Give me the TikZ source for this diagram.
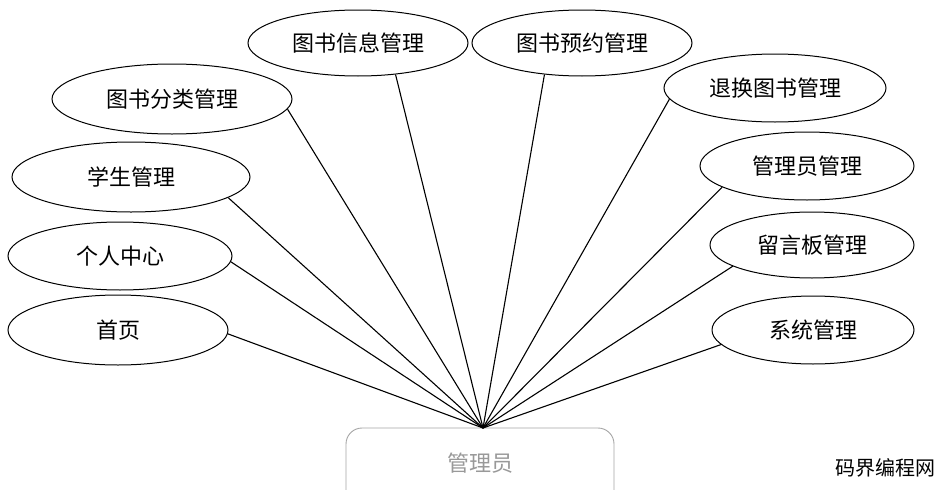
\documentclass[tikz,border=0pt]{standalone}
\usepackage{fontspec}
\newfontfamily\cjk{Noto Sans CJK SC}
\usetikzlibrary{shapes.geometric}
\begin{document}
\begin{tikzpicture}[x=1pt,y=-1pt,
  ell/.style={ellipse,draw,line width=1pt,inner sep=0pt,font=\cjk\fontsize{22}{22}\selectfont},
  conn/.style={line width=1.1pt}]
\useasboundingbox (0,0) rectangle (946,490);
\fill[white] (0,0) rectangle (946,490);
\coordinate (c) at (483,428);
\node[ell,minimum width=220pt,minimum height=70pt] (a1) at (118,330) {首页};
\node[ell,minimum width=224pt,minimum height=68pt] (a2) at (120,256) {个人中心};
\node[ell,minimum width=238pt,minimum height=70pt] (a3) at (131,177) {学生管理};
\node[ell,minimum width=240pt,minimum height=70pt] (a4) at (172,99) {图书分类管理};
\node[ell,minimum width=220pt,minimum height=66pt] (a5) at (358,43) {图书信息管理};
\node[ell,minimum width=220pt,minimum height=66pt] (a6) at (582,43) {图书预约管理};
\node[ell,minimum width=222pt,minimum height=68pt] (a7) at (775,88) {退换图书管理};
\node[ell,minimum width=214pt,minimum height=68pt] (a8) at (807,166) {管理员管理};
\node[ell,minimum width=204pt,minimum height=66pt] (a9) at (812,245) {留言板管理};
\node[ell,minimum width=202pt,minimum height=68pt] (a10) at (813,330) {系统管理};
\draw[gray!70,line width=0.9pt,rounded corners=16pt] (346,500) -- (346,428) -- (614,428) -- (614,500);
\node[text=gray!80,font=\cjk\fontsize{22}{22}\selectfont] (m) at (480,463) {管理员};
\draw[conn] (a1.-2) -- (c);
\draw[conn] (a2.-3) -- (c);
\draw[conn] (a3.-12) -- (c);
\draw[conn] (a4.-5) -- (c);
\draw[conn] (a5.-40) -- (c);
\draw[conn] (a6.-140) -- (c);
\draw[conn] (a7.-174) -- (c);
\draw[conn] (a8.-166) -- (c);
\draw[conn] (a9.-165) -- (c);
\draw[conn] (a10.-171) -- (c);
\node[font=\cjk\fontsize{20}{20}\selectfont] (w) at (885,468) {码界编程网};
\end{tikzpicture}
\end{document}
